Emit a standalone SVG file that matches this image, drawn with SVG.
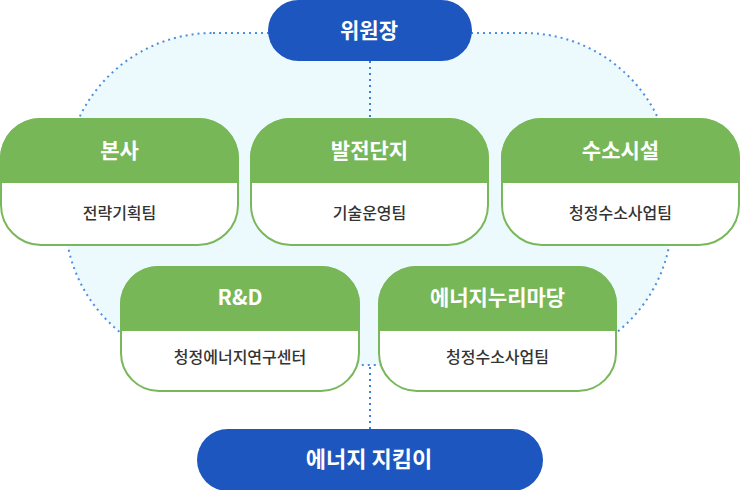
<svg xmlns="http://www.w3.org/2000/svg" width="740" height="490" viewBox="0 0 740 490">
  <style>
    .bg { fill: #ecfafd; stroke: #4b8fe2; stroke-width: 2; stroke-dasharray: 2 4; }
    .link { fill: none; stroke: #3f7ddb; stroke-width: 2; stroke-dasharray: 2 4; }
    .pill { fill: #1c56be; }
    .body { fill: #ffffff; stroke: #78b85a; stroke-width: 2; }
    .head { fill: #77b757; }
    .t-pill { font-family: "Noto Sans CJK KR", "Noto Sans", sans-serif; font-size: 21px; font-weight: 700; fill: #ffffff; text-anchor: middle; }
    .t-head { font-family: "Noto Sans CJK KR", "Noto Sans", sans-serif; font-size: 21px; font-weight: 700; fill: #ffffff; text-anchor: middle; }
    .t-sub { font-family: "Noto Sans CJK KR", "Noto Sans", sans-serif; font-size: 16px; font-weight: 500; fill: #333333; text-anchor: middle; }
  </style>

  <rect class="bg" x="65" y="33" width="607" height="332" rx="148" ry="148"/>

  <g id="connectors">
    <line class="link" x1="370" y1="61" x2="370" y2="119"/>
    <line class="link" x1="370" y1="367" x2="370" y2="429"/>
  </g>

  <g id="node-chair">
    <rect class="pill" x="268" y="0" width="204" height="61" rx="30.5"/>
    <text class="t-pill" x="369" y="38">위원장</text>
  </g>

  <g id="node-hq">
    <rect class="body" x="1" y="119" width="237" height="126" rx="40"/>
    <path class="head" d="M0,183 V159 A40,40 0 0 1 40,118 H199 A40,40 0 0 1 239,158 V183 Z"/>
    <text class="t-head" x="119.5" y="158">본사</text>
    <text class="t-sub" x="119.5" y="219">전략기획팀</text>
  </g>

  <g id="node-plant">
    <rect class="body" x="251" y="119" width="237" height="126" rx="40"/>
    <path class="head" d="M250,183 V159 A40,40 0 0 1 290,118 H449 A40,40 0 0 1 489,158 V183 Z"/>
    <text class="t-head" x="369.5" y="158">발전단지</text>
    <text class="t-sub" x="369.5" y="219">기술운영팀</text>
  </g>

  <g id="node-hydrogen">
    <rect class="body" x="502" y="119" width="237" height="126" rx="40"/>
    <path class="head" d="M501,183 V159 A40,40 0 0 1 541,118 H700 A40,40 0 0 1 740,158 V183 Z"/>
    <text class="t-head" x="620.5" y="158">수소시설</text>
    <text class="t-sub" x="620.5" y="219">청정수소사업팀</text>
  </g>

  <g id="node-rnd">
    <rect class="body" x="121" y="267" width="238" height="124" rx="38"/>
    <path class="head" d="M120,331 V305 A38,38 0 0 1 158,266 H322 A38,38 0 0 1 360,304 V331 Z"/>
    <text class="t-head" x="240" y="305">R&amp;D</text>
    <text class="t-sub" x="240" y="363">청정에너지연구센터</text>
  </g>

  <g id="node-nuri">
    <rect class="body" x="379" y="267" width="237" height="124" rx="38"/>
    <path class="head" d="M378,331 V305 A38,38 0 0 1 416,266 H579 A38,38 0 0 1 617,304 V331 Z"/>
    <text class="t-head" x="497.5" y="305">에너지누리마당</text>
    <text class="t-sub" x="497.5" y="363">청정수소사업팀</text>
  </g>

  <g id="node-keeper">
    <rect class="pill" x="197" y="429" width="346" height="62" rx="31"/>
    <text class="t-pill" x="369" y="467" style="font-size:22px">에너지 지킴이</text>
  </g>
</svg>
